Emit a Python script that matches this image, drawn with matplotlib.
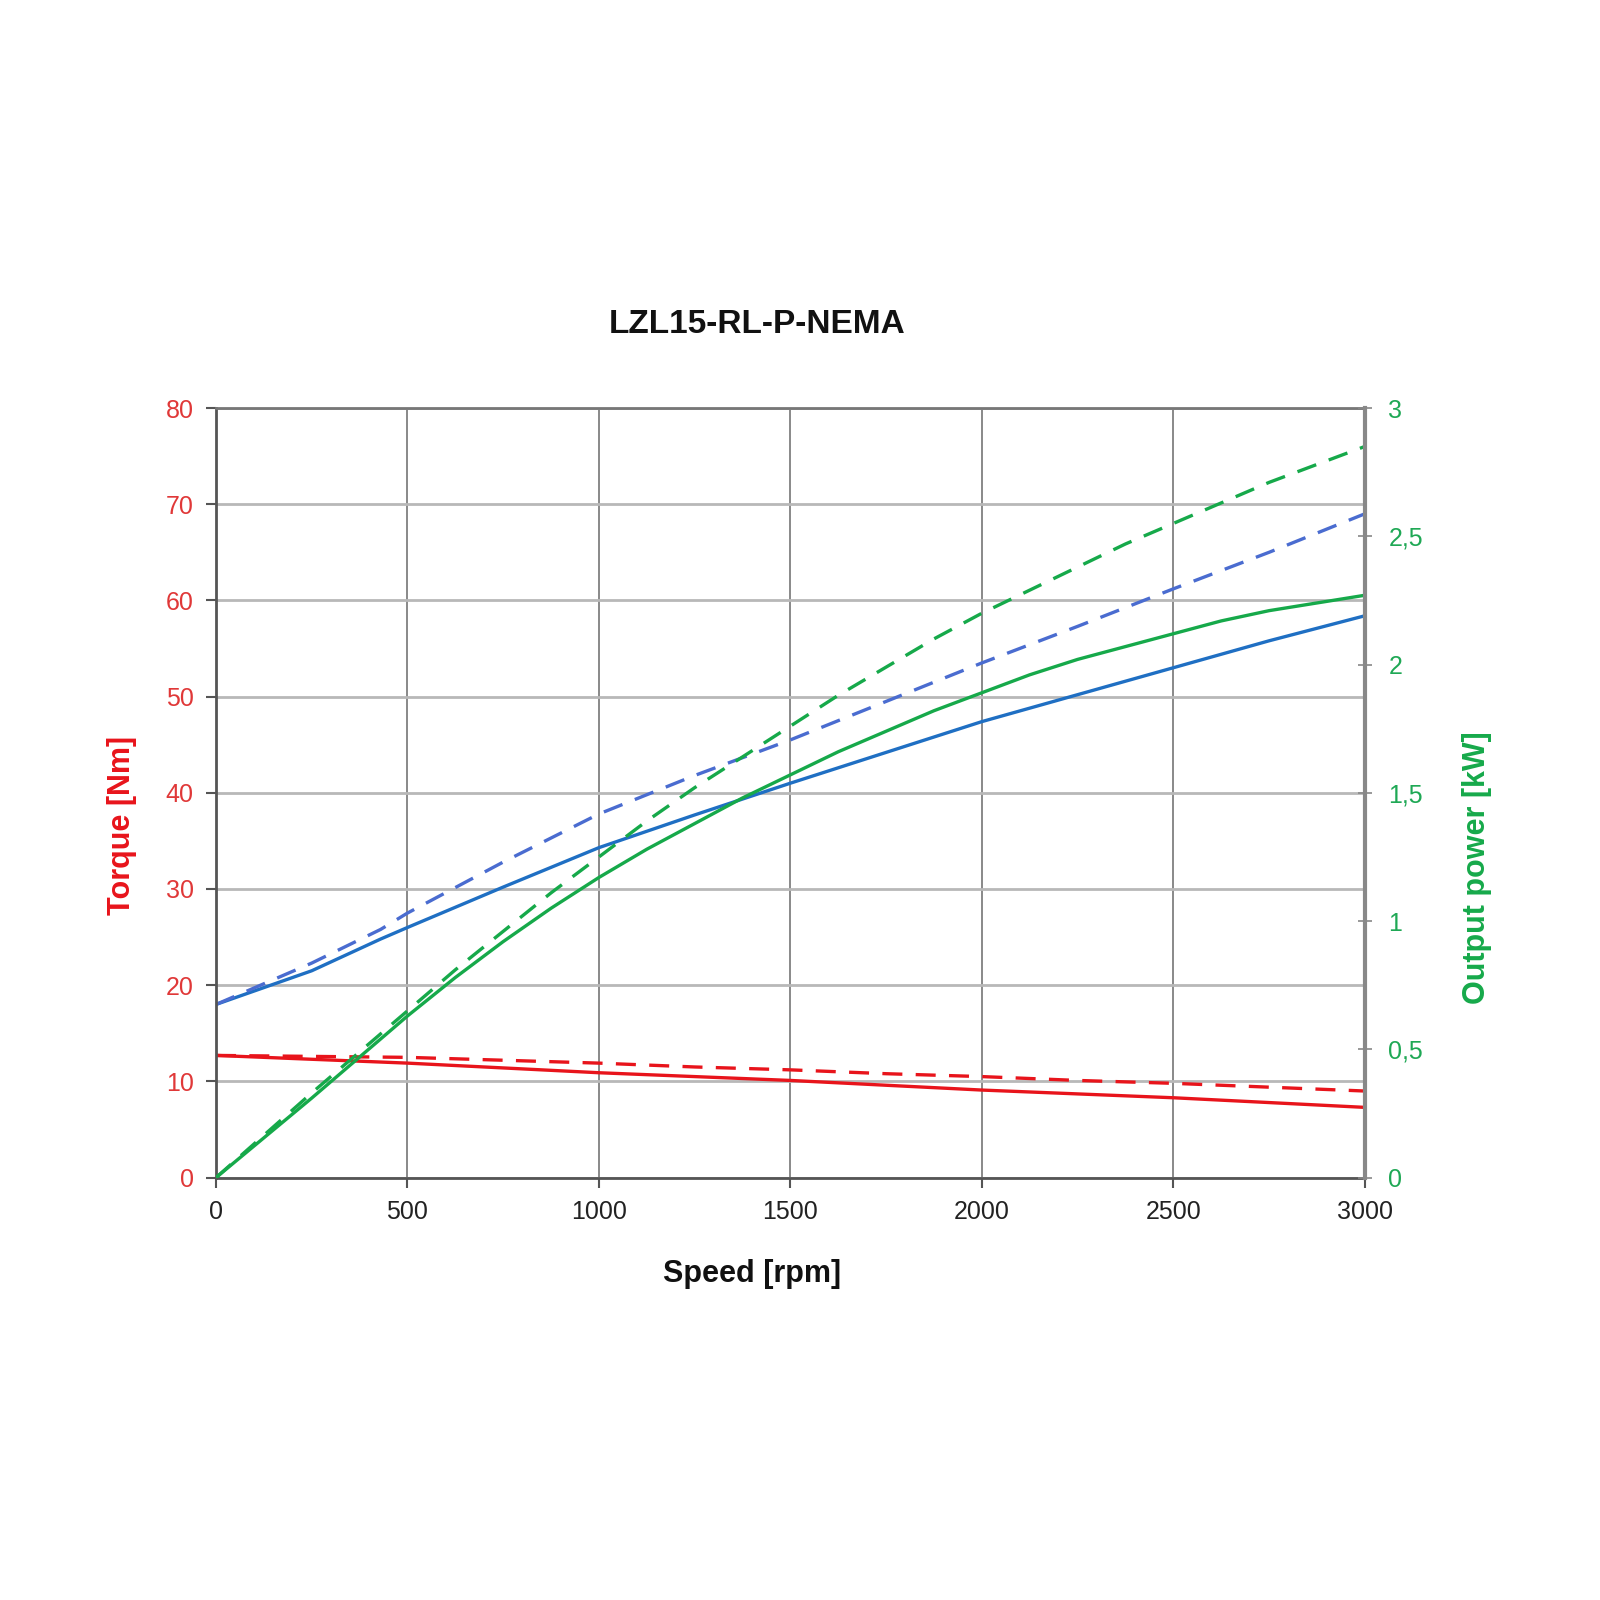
import numpy as np
import matplotlib.pyplot as plt
from matplotlib.ticker import FuncFormatter

plt.rcParams['font.family'] = ['Liberation Sans', 'DejaVu Sans']

# speed [rpm]
rpm = [0, 250, 500, 750, 1000, 1250, 1500, 1750, 2000, 2250, 2500, 2750, 3000]

# torque curves [Nm]
torque_solid = [12.7, 12.3, 11.9, 11.4, 10.9, 10.5, 10.1, 9.6, 9.1, 8.7, 8.3, 7.8, 7.3]
torque_dash = [12.7, 12.6, 12.5, 12.2, 11.9, 11.5, 11.2, 10.8, 10.5, 10.1, 9.8, 9.4, 9.0]

# blue curves (left axis)
blue_rpm = [0, 250, 430, 500, 750, 1000, 1250, 1500, 1750, 2000, 2250, 2500, 2750, 3000]
blue_solid = [18.0, 21.5, 24.8, 26.0, 30.2, 34.3, 37.7, 41.0, 44.2, 47.4, 50.2, 53.0, 55.8, 58.4]
blue_dash = [18.0, 22.3, 25.8, 27.5, 32.8, 37.8, 41.8, 45.5, 49.5, 53.5, 57.3, 61.2, 65.0, 69.0]

# output power [kW]
power_rpm = [0, 250, 500, 625, 750, 875, 1000, 1125, 1250, 1375, 1500, 1625, 1750,
             1875, 2000, 2125, 2250, 2375, 2500, 2625, 2750, 2875, 3000]
power_solid = [0, 0.31, 0.63, 0.78, 0.92, 1.05, 1.17, 1.28, 1.38, 1.48, 1.57, 1.66, 1.74,
               1.82, 1.89, 1.96, 2.02, 2.07, 2.12, 2.17, 2.21, 2.24, 2.27]
power_dash = [0, 0.33, 0.65, 0.81, 0.96, 1.11, 1.25, 1.39, 1.52, 1.64, 1.76, 1.88, 1.99,
              2.10, 2.20, 2.29, 2.38, 2.47, 2.55, 2.63, 2.71, 2.78, 2.85]

RED = '#e8141b'
BLUE = '#1f6fc3'
BLUE2 = '#4a6cd0'
GREEN = '#16a94a'

fig = plt.figure(figsize=(16, 16), dpi=100)
ax = fig.add_axes([0.135, 0.264, 0.718, 0.481])
ax2 = ax.twinx()

ax.plot(rpm, torque_solid, color=RED, lw=2.4)
ax.plot(rpm, torque_dash, color=RED, lw=2.4, ls=(0, (6, 4)))
ax.plot(blue_rpm, blue_solid, color=BLUE, lw=2.4)
ax.plot(blue_rpm, blue_dash, color=BLUE2, lw=2.4, ls=(0, (6, 4)))
ax2.plot(power_rpm, power_solid, color=GREEN, lw=2.4)
ax2.plot(power_rpm, power_dash, color=GREEN, lw=2.4, ls=(0, (6, 4)))

ax.set_xlim(0, 3000)
ax.set_ylim(0, 80)
ax2.set_ylim(0, 3)
ax.set_xticks(range(0, 3001, 500))
ax.set_yticks(range(0, 81, 10))
ax2.set_yticks([0, 0.5, 1, 1.5, 2, 2.5, 3])
ax2.yaxis.set_major_formatter(FuncFormatter(lambda v, p: ('%g' % v).replace('.', ',')))

ax.grid(axis='x', color='#808080', lw=1.3)
ax.grid(axis='y', color='#b8b8b8', lw=2.0)
ax.set_axisbelow(True)

for s in ['left', 'bottom']:
    ax.spines[s].set_color('#555555')
    ax.spines[s].set_linewidth(2.0)
ax.spines['top'].set_color('#777777')
ax.spines['top'].set_linewidth(2.0)
ax2.spines['right'].set_color('#888888')
ax2.spines['right'].set_linewidth(3.0)
for s in ['left', 'bottom', 'top']:
    ax2.spines[s].set_visible(False)

ax.tick_params(axis='x', colors='#555555', labelcolor='#222222', labelsize=18, length=7, width=1.5, pad=9)
ax.tick_params(axis='y', colors='#555555', labelcolor='#e03838', labelsize=18, length=7, width=1.5, pad=9)
ax2.tick_params(axis='y', colors='#888888', labelcolor='#1fa855', labelsize=18, length=10, width=1.2,
                direction='inout', pad=12)

ax.set_xlabel('Speed [rpm]', fontsize=22, fontweight='bold', color='#111111')
ax.xaxis.set_label_coords(0.467, -0.106)
ax.set_ylabel('Torque [Nm]', fontsize=22, fontweight='bold', color=RED)
ax.yaxis.set_label_coords(-0.069, 0.458)
ax2.set_ylabel('Output power [kW]', fontsize=22, fontweight='bold', color=GREEN)
ax2.yaxis.set_label_coords(1.085, 0.403)

fig.text(0.473, 0.797, 'LZL15-RL-P-NEMA', fontsize=24, fontweight='bold', color='#111111',
         ha='center', va='center')

fig.savefig('out.png', dpi=100, facecolor='white')
